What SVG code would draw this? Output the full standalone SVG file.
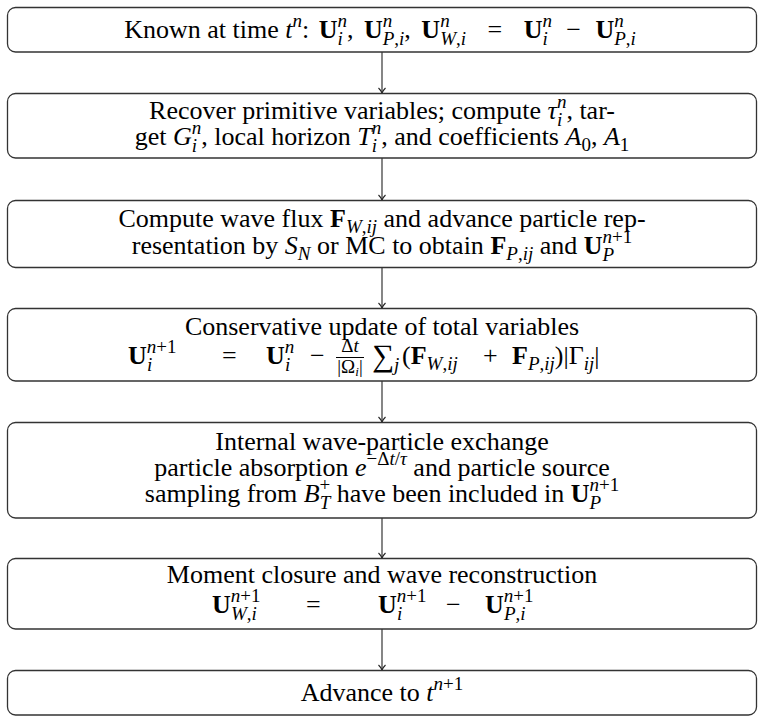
<svg xmlns="http://www.w3.org/2000/svg" width="764" height="722" viewBox="0 0 764 722">
<defs>
<style>
.box{fill:#fff;stroke:#333;stroke-width:1.3}
.t{font-family:"Liberation Serif","Times New Roman",serif;font-size:26px;fill:#000}
.m{text-anchor:middle}
.i{font-style:italic}
.b{font-weight:bold}
.s{font-size:19px}
.ss{font-size:13px}
.sum{font-size:31px}
.edge{stroke:#222;stroke-width:1.1;fill:none;marker-end:url(#ah)}
.bar{stroke:#000;stroke-width:1}
</style>
<marker id="ah" markerUnits="userSpaceOnUse" markerWidth="12" markerHeight="12" viewBox="-6 -6 12 12" refX="0" refY="0" orient="auto">
<path d="M-5,-3.5 C-3,-1.5 -1,-0.4 0,0 C-1,0.4 -3,1.5 -5,3.5" fill="none" stroke="#222" stroke-width="1.1"/>
</marker>
</defs>
<rect fill="#fff" width="764" height="722"/>
<g id="connectors">
<line class="edge" x1="382" y1="52" x2="382" y2="93"/>
<line class="edge" x1="382" y1="158" x2="382" y2="200"/>
<line class="edge" x1="382" y1="267.5" x2="382" y2="308"/>
<line class="edge" x1="382" y1="381" x2="382" y2="422"/>
<line class="edge" x1="382" y1="518" x2="382" y2="558"/>
<line class="edge" x1="382" y1="629" x2="382" y2="670"/>
</g>
<g id="n1">
<rect class="box" x="7.5" y="7.5" width="749" height="44.5" rx="8"/>
<text class="t m" x="380" y="38">Known at time <tspan class="i">t</tspan><tspan class="s i" dy="-11">n</tspan><tspan dy="11">: </tspan><tspan class="b" dx="3">U</tspan><tspan class="s i" dy="-11">n</tspan><tspan class="s i" dx="-9.5" dy="18">i</tspan><tspan dx="4.2" dy="-7">, </tspan><tspan class="b" dx="4">U</tspan><tspan class="s i" dy="-11">n</tspan><tspan class="s" dx="-9.5" dy="18"><tspan class="i">P</tspan>,<tspan class="i">i</tspan></tspan><tspan dy="-7">, </tspan><tspan class="b" dx="4">U</tspan><tspan class="s i" dy="-11">n</tspan><tspan class="s" dx="-9.5" dy="18"><tspan class="i">W</tspan>,<tspan class="i">i</tspan></tspan><tspan dx="15" dy="-7"> = </tspan><tspan class="b" dx="15">U</tspan><tspan class="s i" dy="-11">n</tspan><tspan class="s i" dx="-9.5" dy="18">i</tspan><tspan dx="12" dy="-7"> − </tspan><tspan class="b" dx="8">U</tspan><tspan class="s i" dy="-11">n</tspan><tspan class="s" dx="-9.5" dy="18"><tspan class="i">P</tspan>,<tspan class="i">i</tspan></tspan></text>
</g>
<g id="n2">
<rect class="box" x="7.5" y="93.5" width="749" height="64.5" rx="8"/>
<text class="t m" x="382" y="119">Recover primitive variables; compute <tspan class="i">τ</tspan><tspan class="s i" dy="-11">n</tspan><tspan class="s i" dx="-9.5" dy="18">i</tspan><tspan dx="4.2" dy="-7">, tar-</tspan></text>
<text class="t m" x="382" y="145">get <tspan class="i">G</tspan><tspan class="s i" dy="-11">n</tspan><tspan class="s i" dx="-9.5" dy="18">i</tspan><tspan dx="4.2" dy="-7">, local horizon </tspan><tspan class="i">T</tspan><tspan class="s i" dy="-11">n</tspan><tspan class="s i" dx="-9.5" dy="18">i</tspan><tspan dx="4.2" dy="-7">, and coefficients </tspan><tspan class="i">A</tspan><tspan class="s" dy="6">0</tspan><tspan dy="-6">, </tspan><tspan class="i">A</tspan><tspan class="s" dy="6">1</tspan></text>
</g>
<g id="n3">
<rect class="box" x="7.5" y="200.5" width="749" height="67" rx="8"/>
<text class="t m" x="382" y="227">Compute wave flux <tspan class="b">F</tspan><tspan class="s" dy="6"><tspan class="i">W</tspan>,<tspan class="i">ij</tspan></tspan><tspan dy="-6"> and advance particle rep-</tspan></text>
<text class="t m" x="382" y="254">resentation by <tspan class="i">S</tspan><tspan class="s i" dy="6">N</tspan><tspan dy="-6"> or MC to obtain </tspan><tspan class="b">F</tspan><tspan class="s" dy="6"><tspan class="i">P</tspan>,<tspan class="i">ij</tspan></tspan><tspan dy="-6"> and </tspan><tspan class="b">U</tspan><tspan class="s" dy="-11"><tspan class="i">n</tspan>+1</tspan><tspan class="s i" dx="-29.7" dy="18">P</tspan></text>
</g>
<g id="n4">
<rect class="box" x="7.5" y="308.5" width="749" height="72.5" rx="8"/>
<text class="t m" x="382" y="335">Conservative update of total variables</text>
<text class="t" y="364"><tspan x="128" class="b">U</tspan><tspan class="s" dy="-11"><tspan class="i">n</tspan>+1</tspan><tspan class="s i" x="147" dy="18">i</tspan><tspan x="222" dy="-7">=</tspan><tspan x="266" class="b">U</tspan><tspan class="s i" dy="-11">n</tspan><tspan class="s i" x="285" dy="18">i</tspan><tspan x="310" dy="-7">−</tspan></text>
<text class="t s m" x="350" y="352">Δ<tspan class="i">t</tspan></text>
<line class="bar" x1="336" y1="357.5" x2="364" y2="357.5"/>
<text class="t s m" x="350" y="373">|Ω<tspan class="ss i" dy="3">i</tspan><tspan dy="-3">|</tspan></text>
<text class="t" y="364"><tspan x="372" class="sum" dy="2">∑</tspan><tspan class="s i" dy="5">j</tspan><tspan x="402" dy="-7">(</tspan><tspan class="b">F</tspan><tspan class="s" dy="6"><tspan class="i">W</tspan>,<tspan class="i">ij</tspan></tspan><tspan x="483" dy="-6">+</tspan><tspan x="512" class="b">F</tspan><tspan class="s" dy="6"><tspan class="i">P</tspan>,<tspan class="i">ij</tspan></tspan><tspan dy="-6">)|Γ</tspan><tspan class="s i" dy="6">ij</tspan><tspan dy="-6">|</tspan></text>
</g>
<g id="n5">
<rect class="box" x="7.5" y="422.5" width="749" height="95.5" rx="8"/>
<text class="t m" x="382" y="450">Internal wave-particle exchange</text>
<text class="t m" x="382" y="476">particle absorption <tspan class="i">e</tspan><tspan class="s" dy="-11">−Δ<tspan class="i">t</tspan>/<tspan class="i">τ</tspan></tspan><tspan dy="11"> and particle source</tspan></text>
<text class="t m" x="382" y="502">sampling from <tspan class="i">B</tspan><tspan class="s" dy="-11">+</tspan><tspan class="s i" dx="-10.7" dy="18">T</tspan><tspan dy="-7"> have been included in </tspan><tspan class="b">U</tspan><tspan class="s" dy="-11"><tspan class="i">n</tspan>+1</tspan><tspan class="s i" dx="-29.7" dy="18">P</tspan></text>
</g>
<g id="n6">
<rect class="box" x="7.5" y="558.5" width="749" height="70.5" rx="8"/>
<text class="t m" x="382" y="583">Moment closure and wave reconstruction</text>
<text class="t" y="613"><tspan x="212" class="b">U</tspan><tspan class="s" dy="-11"><tspan class="i">n</tspan>+1</tspan><tspan class="s" x="231" dy="18"><tspan class="i">W</tspan>,<tspan class="i">i</tspan></tspan><tspan x="306" dy="-7">=</tspan><tspan x="378" class="b">U</tspan><tspan class="s" dy="-11"><tspan class="i">n</tspan>+1</tspan><tspan class="s i" x="397" dy="18">i</tspan><tspan x="446" dy="-7">−</tspan><tspan x="485" class="b">U</tspan><tspan class="s" dy="-11"><tspan class="i">n</tspan>+1</tspan><tspan class="s" x="504" dy="18"><tspan class="i">P</tspan>,<tspan class="i">i</tspan></tspan></text>
</g>
<g id="n7">
<rect class="box" x="7.5" y="670.5" width="749" height="44.5" rx="8"/>
<text class="t m" x="382" y="701">Advance to <tspan class="i">t</tspan><tspan class="s" dy="-11"><tspan class="i">n</tspan>+1</tspan></text>
</g>
</svg>
